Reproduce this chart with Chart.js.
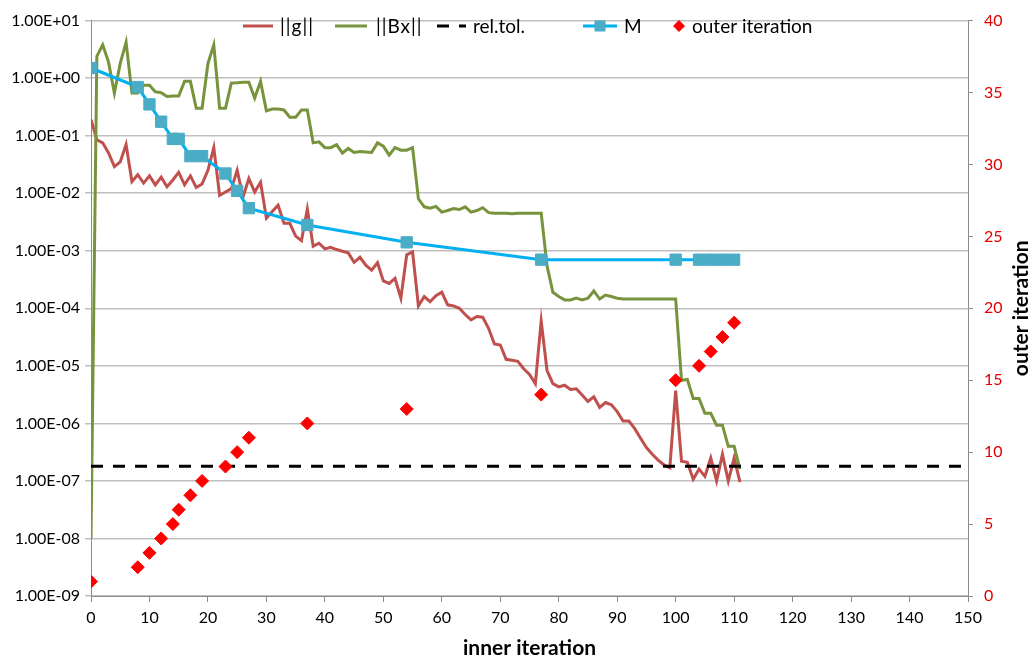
<!DOCTYPE html>
<html>
<head>
<meta charset="utf-8">
<script src="https://cdn.jsdelivr.net/npm/chart.js@4.4.1/dist/chart.umd.min.js"></script>
<style>
  html, body { margin: 0; padding: 0; background: #fff; }
</style>
</head>
<body>
<canvas id="chart" width="1033" height="661"></canvas>
<script>
// ||g|| per inner iteration (index = inner iteration 0..111)
const gNorm = [
  0.19, 0.085, 0.075, 0.05, 0.029, 0.035, 0.07, 0.016, 0.021, 0.015,
  0.02, 0.014, 0.019, 0.013, 0.017, 0.023, 0.014, 0.02, 0.0126, 0.0145,
  0.025, 0.062, 0.0092, 0.0105, 0.012, 0.025, 0.0086, 0.018, 0.0105, 0.0155,
  0.0037, 0.0048, 0.0062, 0.003, 0.003, 0.0018, 0.0015, 0.0053, 0.0012, 0.00135,
  0.00108, 0.00115, 0.00105, 0.00098, 0.00092, 0.00063, 0.00077, 0.00056, 0.00046, 0.00062,
  3.0e-4, 2.7e-4, 3.3e-4, 1.5e-4, 8.5e-4, 9.6e-4, 1.1e-4, 1.6e-4, 1.3e-4, 1.65e-4,
  1.9e-4, 1.15e-4, 1.1e-4, 1.0e-4, 7.8e-5, 6.3e-5, 7.2e-5, 7.0e-5, 4.5e-5, 2.4e-5,
  2.3e-5, 1.3e-5, 1.25e-5, 1.2e-5, 8.9e-6, 7.1e-6, 4.9e-6, 6.0e-5, 8.3e-6, 4.9e-6,
  4.3e-6, 4.6e-6, 3.9e-6, 4.0e-6, 3.1e-6, 2.4e-6, 2.9e-6, 1.9e-6, 2.3e-6, 2.1e-6,
  1.6e-6, 1.1e-6, 1.1e-6, 8.1e-7, 5.5e-7, 3.8e-7, 2.9e-7, 2.3e-7, 1.9e-7, 1.7e-7,
  3.7e-6, 2.2e-7, 2.1e-7, 1.07e-7, 1.6e-7, 1.2e-7, 2.5e-7, 1.0e-7, 2.9e-7, 1.0e-7,
  2.5e-7, 9.5e-8
];

// ||Bx|| per inner iteration
const bxNorm = [
  1e-8, 2.4, 3.8, 1.9, 0.55, 1.8, 4.2, 0.55, 0.55, 0.75,
  0.75, 0.58, 0.56, 0.48, 0.49, 0.49, 0.88, 0.88, 0.3, 0.3,
  1.8, 3.8, 0.3, 0.3, 0.82, 0.83, 0.85, 0.85, 0.45, 0.88,
  0.27, 0.29, 0.29, 0.28, 0.21, 0.21, 0.28, 0.28, 0.075, 0.078,
  0.062, 0.062, 0.07, 0.05, 0.06, 0.051, 0.053, 0.052, 0.051, 0.075,
  0.066, 0.046, 0.062, 0.056, 0.056, 0.062, 0.008, 0.0058, 0.0055, 0.0059,
  0.0047, 0.005, 0.0054, 0.0052, 0.0058, 0.0047, 0.005, 0.0056, 0.0046, 0.0045,
  0.0045, 0.0045, 0.0044, 0.0045, 0.0045, 0.0045, 0.0045, 0.0045, 5.5e-4, 1.9e-4,
  1.6e-4, 1.4e-4, 1.4e-4, 1.5e-4, 1.4e-4, 1.5e-4, 2.0e-4, 1.45e-4, 1.7e-4, 1.6e-4,
  1.5e-4, 1.45e-4, 1.45e-4, 1.45e-4, 1.45e-4, 1.45e-4, 1.45e-4, 1.45e-4, 1.45e-4, 1.45e-4,
  1.45e-4, 5.6e-6, 5.8e-6, 2.7e-6, 2.7e-6, 1.5e-6, 1.5e-6, 9.3e-7, 9.3e-7, 4e-7,
  4e-7, 1.6e-7
];

// relative tolerance (horizontal line across the x range)
const relTol = 1.8e-7;
const relTolX = [0, 150];

// inner iteration at which each outer iteration starts, with M and outer number
const outerStart = [0, 8, 10, 12, 14, 15, 17, 19, 23, 25, 27, 37, 54, 77, 100, 104, 106, 108, 110];
const mValues = [1.5, 0.7, 0.35, 0.175, 0.088, 0.088, 0.044, 0.044, 0.022, 0.011, 0.0055,
                 0.0028, 0.0014, 0.0007, 0.0007, 0.0007, 0.0007, 0.0007, 0.0007];
const outerIter = [1, 2, 3, 4, 5, 6, 7, 8, 9, 10, 11, 12, 13, 14, 15, 16, 17, 18, 19];

// axis ticks
const yTickValues = [1e-9, 1e-8, 1e-7, 1e-6, 1e-5, 1e-4, 1e-3, 1e-2, 1e-1, 1e0, 1e1];
const yTickLabels = ['1.00E-09', '1.00E-08', '1.00E-07', '1.00E-06', '1.00E-05', '1.00E-04',
                     '1.00E-03', '1.00E-02', '1.00E-01', '1.00E+00', '1.00E+01'];

const FONT = 'Lato';
const GRID = '#BFBFBF';
const AXIS = '#8C8C8C';

// legend drawn inside the plot, like the original
const legendSlots = [
  { label: '||g||', x: 243, w: 30, tx: 280 },
  { label: '||Bx||', x: 335, w: 32, tx: 376 },
  { label: 'rel.tol.', x: 437, w: 29, tx: 473 },
  { label: 'M', x: 583, w: 34, tx: 624 },
  { label: 'outer iteration', x: 673, w: 12, tx: 692 }
];

const insideLegend = {
  id: 'insideLegend',
  afterDraw(chart) {
    const ctx = chart.ctx;
    const y = 26;
    const ds = chart.data.datasets;
    ctx.save();
    ctx.font = '19px ' + FONT;
    ctx.textBaseline = 'middle';
    legendSlots.forEach((slot, i) => {
      const d = ds[i];
      ctx.lineWidth = 3;
      if (i < 4) {
        ctx.strokeStyle = d.borderColor;
        ctx.setLineDash(d.borderDash || []);
        ctx.beginPath();
        ctx.moveTo(slot.x, y);
        ctx.lineTo(slot.x + slot.w, y);
        ctx.stroke();
        ctx.setLineDash([]);
      }
      if (i === 3) {
        ctx.fillStyle = d.pointBackgroundColor;
        ctx.fillRect(slot.x + slot.w / 2 - 5.5, y - 5.5, 11, 11);
      }
      if (i === 4) {
        const cx = slot.x + slot.w / 2;
        ctx.fillStyle = d.pointBackgroundColor;
        ctx.beginPath();
        ctx.moveTo(cx - 6, y);
        ctx.lineTo(cx, y - 6);
        ctx.lineTo(cx + 6, y);
        ctx.lineTo(cx, y + 6);
        ctx.closePath();
        ctx.fill();
      }
      ctx.fillStyle = '#000';
      ctx.letterSpacing = slot.label.includes('|') ? '1px' : '0px';
      ctx.fillText(slot.label, slot.tx, y + 1);
    });
    ctx.letterSpacing = '0px';

    // right axis title, reading bottom to top
    const area = chart.chartArea;
    ctx.font = 'bold 21px ' + FONT;
    ctx.textAlign = 'center';
    ctx.translate(1021, (area.top + area.bottom) / 2);
    ctx.rotate(-Math.PI / 2);
    ctx.fillText('outer iteration', 0, 0);
    ctx.restore();
  }
};

new Chart(document.getElementById('chart'), {
  type: 'scatter',
  data: {
    datasets: [
      {
        label: '||g||',
        data: gNorm.map((v, i) => ({ x: i, y: v })),
        showLine: true,
        borderColor: '#C0504D',
        borderWidth: 3,
        pointRadius: 0,
        yAxisID: 'y',
        order: 5
      },
      {
        label: '||Bx||',
        data: bxNorm.map((v, i) => ({ x: i, y: v })),
        showLine: true,
        borderColor: '#77933C',
        borderWidth: 3,
        pointRadius: 0,
        yAxisID: 'y',
        order: 4
      },
      {
        label: 'rel.tol.',
        data: relTolX.map(x => ({ x: x, y: relTol })),
        showLine: true,
        borderColor: '#000000',
        borderWidth: 3,
        borderDash: [12, 10],
        pointRadius: 0,
        yAxisID: 'y',
        order: 3
      },
      {
        label: 'M',
        data: outerStart.map((x, i) => ({ x: x, y: mValues[i] })),
        showLine: true,
        borderColor: '#00B0F0',
        borderWidth: 3,
        pointStyle: 'rect',
        pointRadius: 8,
        pointBackgroundColor: '#4BACC6',
        pointBorderColor: '#4BACC6',
        pointBorderWidth: 1,
        yAxisID: 'y',
        order: 2
      },
      {
        label: 'outer iteration',
        data: outerStart.map((x, i) => ({ x: x, y: outerIter[i] })),
        showLine: false,
        pointStyle: 'rectRot',
        pointRadius: 6.5,
        pointBackgroundColor: '#FF0000',
        pointBorderColor: '#FF0000',
        pointBorderWidth: 1,
        yAxisID: 'y1',
        order: 1
      }
    ]
  },
  options: {
    responsive: false,
    animation: false,
    events: [],
    layout: { padding: { top: 15, left: 0, right: 0, bottom: 0 } },
    plugins: {
      legend: { display: false },
      tooltip: { enabled: false }
    },
    scales: {
      x: {
        type: 'linear',
        min: 0,
        max: 150,
        ticks: {
          stepSize: 10,
          color: '#000',
          padding: 6,
          font: { family: FONT, size: 16 }
        },
        grid: { drawOnChartArea: false, color: AXIS, tickLength: 6 },
        border: { color: AXIS, width: 1 },
        title: {
          display: true,
          text: 'inner iteration',
          color: '#000',
          font: { family: FONT, size: 21, weight: 'bold' },
          padding: { top: 0, bottom: 0 }
        },
        afterFit: s => { s.height = 65; }
      },
      y: {
        type: 'logarithmic',
        position: 'left',
        min: 1e-9,
        max: 10,
        afterBuildTicks: s => { s.ticks = yTickValues.map(v => ({ value: v, major: true })); },
        ticks: {
          autoSkip: false,
          color: '#000',
          padding: 5,
          font: { family: FONT, size: 16 },
          callback: (v, i) => yTickLabels[i]
        },
        grid: { color: GRID, lineWidth: 1.5, tickLength: 6 },
        border: { color: AXIS, width: 1 },
        afterFit: s => { s.width = 91; }
      },
      y1: {
        type: 'linear',
        position: 'right',
        min: 0,
        max: 40,
        ticks: {
          stepSize: 5,
          color: '#E00000',
          padding: 11,
          font: { family: FONT, size: 16 }
        },
        grid: { drawOnChartArea: false, color: AXIS, tickLength: 5 },
        border: { color: AXIS, width: 1 },
        afterFit: s => { s.width = 65; }
      }
    }
  },
  plugins: [insideLegend]
});
</script>
</body>
</html>
